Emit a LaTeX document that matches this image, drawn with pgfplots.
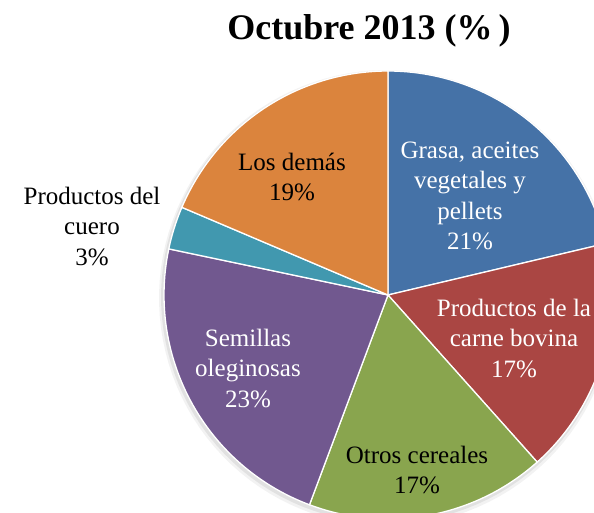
\documentclass[border=0pt]{standalone}
\usepackage{pgfplots}
\pgfplotsset{compat=1.18}
\usepackage{fontspec}
\setmainfont{Liberation Serif}
\definecolor{cA}{HTML}{4572A7}
\definecolor{cB}{HTML}{AA4643}
\definecolor{cC}{HTML}{89A54E}
\definecolor{cD}{HTML}{71588F}
\definecolor{cE}{HTML}{4198AF}
\definecolor{cF}{HTML}{DB843D}
% shares (%), clockwise from 12 o'clock
\def\vA{21.3}% Grasa, aceites vegetales y pellets
\def\vB{17.1}% Productos de la carne bovina
\def\vC{17.3}% Otros cereales
\def\vD{22.6}% Semillas oleginosas
\def\vE{3.1}%  Productos del cuero
\def\vF{18.6}% Los demas
\def\cx{388}\def\cy{218}\def\rr{224}
\begin{document}
\begin{tikzpicture}
\pgfmathsetmacro\aA{90}
\pgfmathsetmacro\aB{\aA-3.6*\vA}
\pgfmathsetmacro\aC{\aB-3.6*\vB}
\pgfmathsetmacro\aD{\aC-3.6*\vC}
\pgfmathsetmacro\aE{\aD-3.6*\vD}
\pgfmathsetmacro\aF{\aE-3.6*\vE}
\pgfmathsetmacro\aG{\aF-3.6*\vF}
\useasboundingbox (0,0) rectangle (594pt,513pt);
\begin{axis}[at={(0,0)}, anchor=south west,
  scale only axis, width=594pt, height=513pt,
  xmin=0, xmax=594, ymin=0, ymax=513,
  hide axis, clip=true]
% soft shadow
\addplot[draw=none, fill=black, fill opacity=0.05, domain=0:360, samples=120]
  ({\cx-1+(\rr+4)*cos(x)},{\cy-3+(\rr+4)*sin(x)}) -- cycle;
\addplot[draw=none, fill=black, fill opacity=0.07, domain=0:360, samples=120]
  ({\cx-1+(\rr+2)*cos(x)},{\cy-2+(\rr+2)*sin(x)}) -- cycle;
% slices
\addplot[fill=cA, draw=white, line width=1.3pt, domain=\aB:\aA, samples=60]
  ({\cx+\rr*cos(x)},{\cy+\rr*sin(x)}) -- (axis cs:\cx,\cy) -- cycle;
\addplot[fill=cB, draw=white, line width=1.3pt, domain=\aC:\aB, samples=60]
  ({\cx+\rr*cos(x)},{\cy+\rr*sin(x)}) -- (axis cs:\cx,\cy) -- cycle;
\addplot[fill=cC, draw=white, line width=1.3pt, domain=\aD:\aC, samples=60]
  ({\cx+\rr*cos(x)},{\cy+\rr*sin(x)}) -- (axis cs:\cx,\cy) -- cycle;
\addplot[fill=cD, draw=white, line width=1.3pt, domain=\aE:\aD, samples=60]
  ({\cx+\rr*cos(x)},{\cy+\rr*sin(x)}) -- (axis cs:\cx,\cy) -- cycle;
\addplot[fill=cE, draw=white, line width=1.3pt, domain=\aF:\aE, samples=20]
  ({\cx+\rr*cos(x)},{\cy+\rr*sin(x)}) -- (axis cs:\cx,\cy) -- cycle;
\addplot[fill=cF, draw=white, line width=1.3pt, domain=\aG:\aF, samples=60]
  ({\cx+\rr*cos(x)},{\cy+\rr*sin(x)}) -- (axis cs:\cx,\cy) -- cycle;
% labels
\tikzset{lbl/.style={align=center, font=\fontsize{25}{30.5}\selectfont, inner sep=0pt}}
\node[lbl, text=white] at (axis cs:470,317) {Grasa, aceites\\vegetales y\\pellets\\21\%};
\node[lbl, text=white] at (axis cs:514,175) {Productos de la\\carne bovina\\17\%};
\node[lbl, text=black] at (axis cs:417,43) {Otros cereales\\17\%};
\node[lbl, text=white] at (axis cs:248,145) {Semillas\\oleginosas\\23\%};
\node[lbl, text=black] at (axis cs:92,287) {Productos del\\cuero\\3\%};
\node[lbl, text=black] at (axis cs:292,336) {Los demás\\19\%};
\node[anchor=base, inner sep=0pt, font=\fontsize{36}{40}\selectfont\bfseries] at (axis cs:369,473) {Octubre 2013 (\%\,)};
\end{axis}
\end{tikzpicture}
\end{document}
